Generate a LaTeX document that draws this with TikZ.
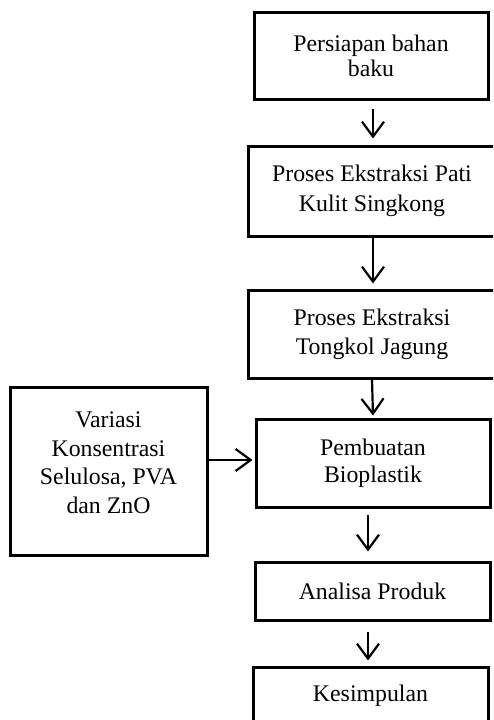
\documentclass[tikz,border=0pt]{standalone}
\usepackage{fontspec}
\setmainfont{Liberation Serif}
\usetikzlibrary{arrows.meta}
\tikzset{
  box/.style={draw, line width=3pt, inner sep=0pt, align=center,
    font=\fontsize{23.8}{28}\selectfont},
  arr/.style={line width=2.2pt, -{Straight Barb[length=15pt,width=22pt,line width=2.2pt]}}
}
\begin{document}
\begin{tikzpicture}[x=1pt,y=-1pt]
\useasboundingbox (0,0) rectangle (493,720);
\clip (0,0) rectangle (493,720);
\node[box, minimum width=234pt, minimum height=87pt, font=\fontsize{23.8}{25}\selectfont] (b1) at (371,55.5) {Persiapan bahan\\baku};
\node[box, minimum width=248pt, minimum height=90pt, font=\fontsize{23.8}{30}\selectfont] (b2) at (372,191) {Proses Ekstraksi Pati\\Kulit Singkong};
\node[box, minimum width=248pt, minimum height=88pt, font=\fontsize{23.8}{29}\selectfont] (b3) at (372,334) {Proses Ekstraksi\\Tongkol Jagung};
\node[box, minimum width=234pt, minimum height=88pt, font=\fontsize{23.8}{27}\selectfont] (b4) at (373,463) {Pembuatan\\Bioplastik};
\node[box, minimum width=197pt, minimum height=168pt, font=\fontsize{23.8}{28.5}\selectfont] (lv) at (108.5,471) {Variasi\\Konsentrasi\\Selulosa, PVA\\dan ZnO\\[-12pt]\mbox{}};
\node[box, minimum width=235pt, minimum height=58pt] (b5) at (372.5,591) {Analisa Produk};
\node[box, minimum width=235pt, minimum height=58pt] (b6) at (370.5,696) {Kesimpulan};
\draw[arr] ([xshift=2pt,yshift=-8pt]b1.south) -- ([xshift=1pt,yshift=6pt]b2.north);
\draw[arr] ([xshift=1pt]b2.south) -- ([xshift=1pt,yshift=5pt]b3.north);
\draw[arr] (b3.south) -- ([yshift=2pt]b4.north);
\draw[arr] ([xshift=-5pt,yshift=-6pt]b4.south) -- ([xshift=-4.5pt,yshift=9pt]b5.north);
\draw[arr] ([xshift=-4.5pt,yshift=-10pt]b5.south) -- ([xshift=-2.5pt,yshift=5pt]b6.north);
\draw[arr] ([yshift=11pt]lv.east) -- ([xshift=-2pt,yshift=3pt]b4.west);
\end{tikzpicture}
\end{document}
